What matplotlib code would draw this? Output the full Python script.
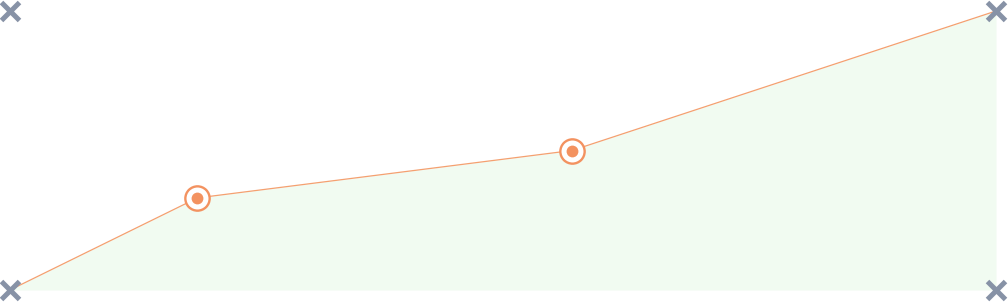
import matplotlib
matplotlib.use("Agg")
import matplotlib.pyplot as plt

# data
x_vals = [0, 19, 57, 100]
y_vals = [0, 33, 50, 100]
hl_x = [19, 57]
hl_y = [33, 50]
corner_x = [0, 0, 100, 100]
corner_y = [0, 100, 0, 100]

W, H = 1008, 302
fig = plt.figure(figsize=(W / 100, H / 100), dpi=100)
ax = fig.add_axes([10 / W, (H - 290) / H, 986 / W, 279 / H])
ax.set_xlim(0, 100)
ax.set_ylim(0, 100)
ax.axis("off")

ax.fill_between(x_vals, y_vals, 0, color="#f1fbf1", lw=0, zorder=1)
ax.plot(x_vals, y_vals, color="#f4a070", lw=0.9, zorder=2, clip_on=False)
ax.plot(hl_x, hl_y, "o", ms=17.5, mfc="white", mec="#f39260", mew=1.7, zorder=3)
ax.plot(hl_x, hl_y, "o", ms=8.5, mfc="#f39260", mec="#f39260", mew=0, zorder=4)
ax.plot(corner_x, corner_y, "x", ms=13.5, mec="#8792a6", mew=3.6, zorder=5, clip_on=False)

fig.savefig("out.png", dpi=100)
